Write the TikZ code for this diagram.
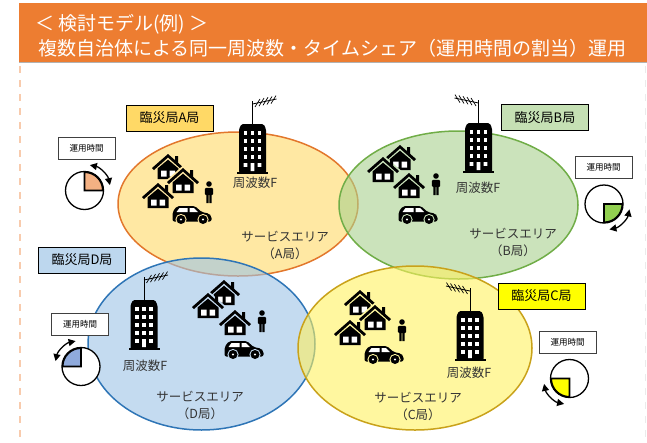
\documentclass[tikz,border=0pt]{standalone}
\usepackage{fontspec}
\setmainfont{Noto Sans CJK JP}
\usetikzlibrary{arrows.meta}
\definecolor{hdr}{HTML}{ED7D31}
\definecolor{hdrlight}{HTML}{F8CBAD}
\definecolor{fillA}{HTML}{FFD966}
\definecolor{lineA}{HTML}{E2772C}
\definecolor{fillB}{HTML}{A9D18E}
\definecolor{lineB}{HTML}{70AD47}
\definecolor{fillC}{HTML}{FFF15F}
\definecolor{lineC}{HTML}{C9A21A}
\definecolor{fillD}{HTML}{9DC3E6}
\definecolor{lineD}{HTML}{2E75B6}
\definecolor{bgA}{RGB}{255,232,163}
\definecolor{bgB}{RGB}{203,227,187}
\definecolor{bgC}{RGB}{255,247,159}
\definecolor{bgD}{RGB}{196,219,240}
\definecolor{pieA}{HTML}{F4B183}
\definecolor{pieB}{HTML}{92D050}
\definecolor{pieC}{HTML}{FFFF00}
\definecolor{pieD}{HTML}{8FAADC}
\definecolor{tagA}{HTML}{FFD966}
\definecolor{tagB}{HTML}{C5E0B4}
\definecolor{tagC}{HTML}{FFFF00}
\definecolor{tagD}{HTML}{BDD7EE}
\tikzset{
  area/.style={line width=1.5pt, fill opacity=0.6},
  title/.style={text=white, inner sep=0pt, font=\fontsize{19}{19}\selectfont},
  tag/.style={draw, line width=1pt, minimum width=87pt, minimum height=26pt, inner sep=0pt, font=\fontsize{13}{13}\selectfont},
  timebox/.style={draw=black!75, line width=0.8pt, fill=white, minimum width=57pt, minimum height=22pt, inner sep=0pt, font=\fontsize{8.5}{8.5}\selectfont},
  lbl/.style={text=black!80, inner sep=0pt, align=center, font=\fontsize{12.5}{17}\selectfont},
  spin/.style={line width=1.3pt, {Triangle[length=7pt,width=7pt]}-{Triangle[length=7pt,width=7pt]}},
  pics/house/.style={code={
    \fill[#1] (-18.5,11) -- (0,27.5) -- (18.5,11) -- (12.5,7) -- (12.5,-1.5) -- (-12.5,-1.5) -- (-12.5,7) -- cycle;
    \fill (-16,11) -- (0,25) -- (16,11) -- (14,9) -- (0,21.5) -- (-14,9) -- cycle;
    \fill (7,17) -- (7,23) -- (10,23) -- (10,15) -- cycle;
    \fill (-10.5,0) -- (-10.5,10.5) -- (0,19.3) -- (10.5,10.5) -- (10.5,0) -- cycle;
    \fill[white] (-7,2.5) rectangle (-1.5,8.5) (1.5,2.5) rectangle (7,8.5);
  }},
  pics/person/.style={code={
    \fill (0,19) circle (2.8);
    \fill[rounded corners=1.2pt] (-4.2,8) -- (-4.2,15.2) -- (4.2,15.2) -- (4.2,8) -- cycle;
    \fill (-2.6,0) rectangle (-0.3,9) (0.3,0) rectangle (2.6,9);
  }},
  pics/car/.style={code={
    \fill[rounded corners=2pt] (-19.5,2.5) -- (-19.5,12) -- (-15,18) -- (3,18) -- (9.5,12) -- (17,10.5) -- (19.5,8) -- (19.5,2.5) -- cycle;
    \fill[white] (-15.5,12) -- (-12.5,16) -- (-4.5,16) -- (-4.5,12) -- cycle (-2.5,12) -- (-2.5,16) -- (2,16) -- (6,12) -- cycle;
    \foreach \w in {-11,11} {
      \fill[#1] (\w,4.5) circle (5.6);
      \fill (\w,4.5) circle (4.5);
      \fill[white] (\w,4.5) circle (1.1);
    }
  }},
  pics/tower/.style={code={
    \fill (-15.5,0) rectangle (15.5,2.5);
    \fill[rounded corners=1.5pt] (-13.5,1) -- (-13.5,45) -- (-11,50) -- (11,50) -- (13.5,45) -- (13.5,1) -- cycle;
    \foreach \r in {17,25,33,41}
      \foreach \c in {-7,0,7}
        \fill[white] (\c-1.8,\r-1.8) rectangle ++(3.6,3.6);
    \fill[white] (-8.8,7.2) rectangle ++(3.6,3.6) (5.2,7.2) rectangle ++(3.6,3.6) (-1.8,3) rectangle (1.8,11);
    \draw[line width=1pt] (0,50) -- (0,73);
    \draw[line width=0.8pt] (0,70) -- (24,75);
    \foreach \t in {5,9,...,21}
      \draw[line width=0.7pt] (\t-2.5,70+\t*5/24-4) -- (\t+2.5,70+\t*5/24+4);
  }},
  pics/clock/.style 2 args={code={
    \draw[line width=1.3pt, fill=white] (0,0) circle (19);
    \filldraw[fill=#2, line width=1.6pt, line join=miter] (0,0) -- (#1:18.3) arc[start angle=#1, end angle=#1+90, radius=18.3] -- cycle;
    \draw[spin] (#1+12:26) arc[start angle=#1+12, end angle=#1+78, radius=26];
  }}
}
\begin{document}
\begin{tikzpicture}[x=1pt,y=1pt]
\useasboundingbox (0,0) rectangle (647,-442);
\fill[hdr] (19,-3) rectangle (647,-62);
\draw[black!30, line width=1pt] (19,-62.5) -- (647,-62.5);
\node[title, anchor=west] (ttl1) at (35,-24) {＜ 検討モデル(例)\ ＞};
\node[title, anchor=west] (ttl2) at (38,-48) {複数自治体による同一周波数・タイムシェア（運用時間の割当）運用};
\draw[hdrlight, line width=2pt, dash pattern=on 7pt off 7pt] (20,-66) -- (20,-442);
\draw[black!8, line width=1pt, dash pattern=on 7pt off 7pt] (645,-66) -- (645,-442);

\draw[area, draw=lineA, fill=fillA] (238,-204) ellipse [x radius=120, y radius=72];
\draw[area, draw=lineB, fill=fillB] (458.5,-205) ellipse [x radius=119.5, y radius=74];
\draw[area, draw=lineD, fill=fillD] (201.5,-344) ellipse [x radius=113.5, y radius=86];
\draw[area, draw=lineC, fill=fillC] (415,-348) ellipse [x radius=117, y radius=82];

\pic at (168,-179) {house=bgA};
\pic at (183,-193) {house=bgA};
\pic at (158,-208) {house=bgA};
\pic at (209,-203) {person};
\pic at (192,-224) {car=bgA};
\pic at (252.5,-174) {tower};

\pic at (400,-170) {house=bgB};
\pic at (383,-182) {house=bgB};
\pic at (409,-198) {house=bgB};
\pic at (436,-195) {person};
\pic at (418,-224) {car=bgB};
\pic[xscale=-1] at (478.5,-173) {tower};

\pic at (224,-305) {house=bgD};
\pic at (208,-318) {house=bgD};
\pic at (235,-335) {house=bgD};
\pic at (262,-332) {person};
\pic at (244,-359) {car=bgD};
\pic at (144,-350) {tower};

\pic at (360,-315) {house=bgC};
\pic at (375,-330) {house=bgC};
\pic at (350,-345) {house=bgC};
\pic at (402,-341) {person};
\pic at (384,-364) {car=bgC};
\pic[xscale=-1] at (470,-361) {tower};

\node[tag, fill=tagA] (tagA) at (169.5,-118) {臨災局A局};
\node[tag, fill=tagB] (tagB) at (545,-117.5) {臨災局B局};
\node[tag, fill=tagD] (tagD) at (82,-260) {臨災局D局};
\node[tag, fill=tagC] (tagC) at (541.5,-296) {臨災局C局};

\node[lbl] (freqA) at (255,-183) {周波数F};
\node[lbl] (freqB) at (478,-188) {周波数F};
\node[lbl] (freqD) at (145,-366) {周波数F};
\node[lbl] (freqC) at (469,-373) {周波数F};

\node[lbl] (svcA) at (285,-245.5) {サービスエリア\\（A局）};
\node[lbl] (svcB) at (513,-242) {サービスエリア\\（B局）};
\node[lbl] (svcD) at (200,-405) {サービスエリア\\（D局）};
\node[lbl] (svcC) at (418,-406) {サービスエリア\\（C局）};

\node[timebox] (timeA) at (86.5,-148.5) {運用時間};
\node[timebox] (timeB) at (603.5,-167.5) {運用時間};
\node[timebox] (timeD) at (80,-324.5) {運用時間};
\node[timebox] (timeC) at (567.5,-342.5) {運用時間};

\pic at (84.5,-190.5) {clock={0}{pieA}};
\pic at (604,-204) {clock={270}{pieB}};
\pic at (81,-366.5) {clock={90}{pieD}};
\pic at (569.5,-378.5) {clock={180}{pieC}};
\end{tikzpicture}
\end{document}
